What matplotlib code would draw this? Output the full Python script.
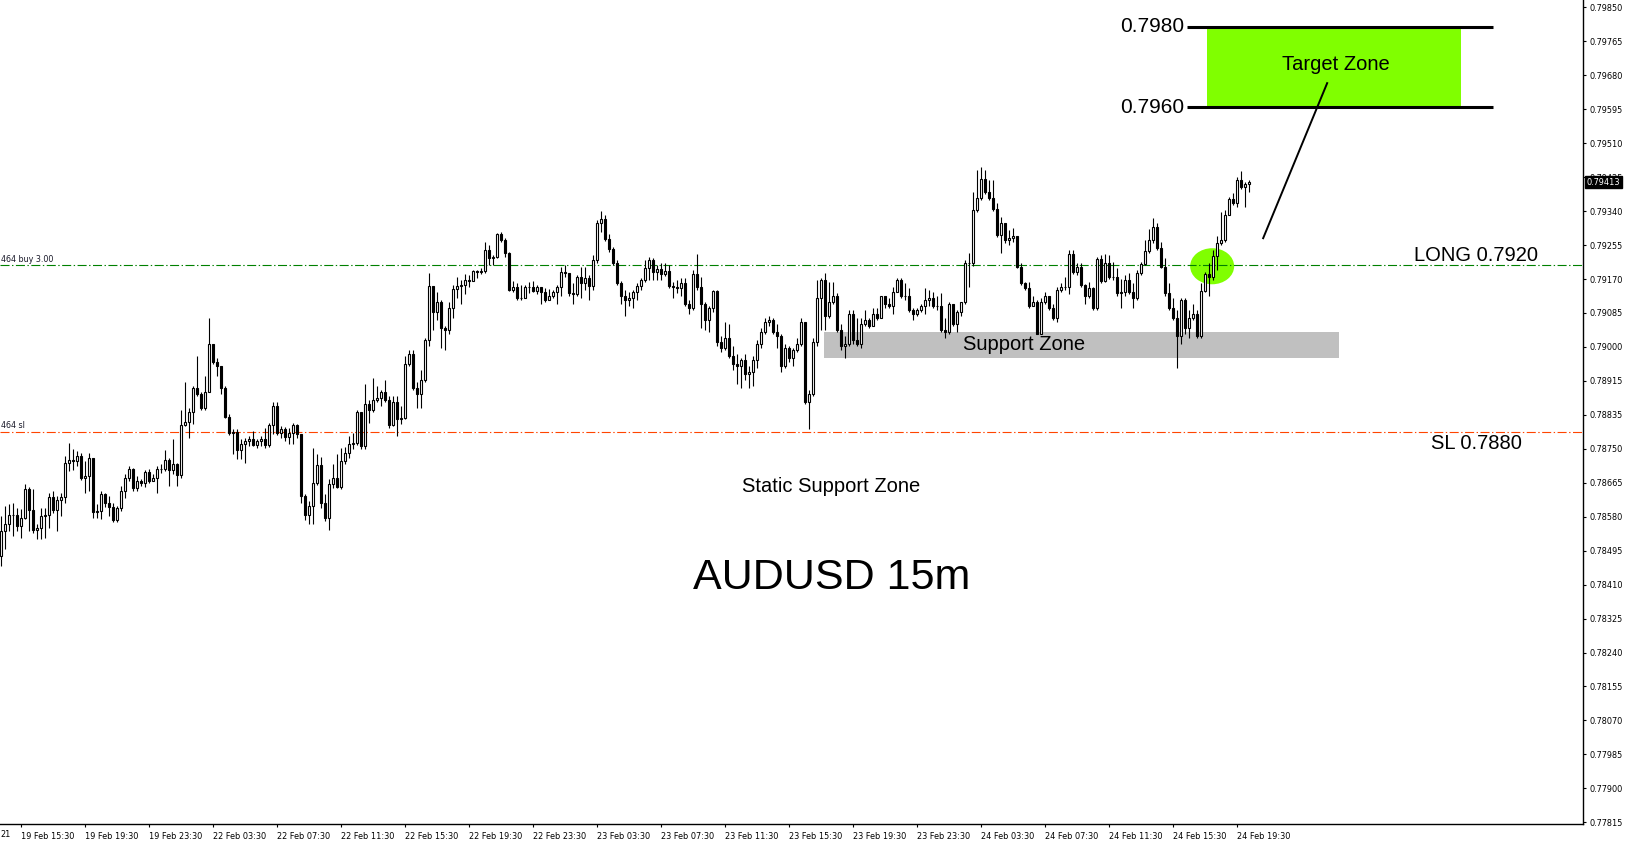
import numpy as np
import matplotlib
matplotlib.use('Agg')
import matplotlib.pyplot as plt
from matplotlib.patches import Rectangle, Ellipse
import matplotlib.transforms as mtransforms

plt.rcParams['lines.scale_dashes'] = False

# ---------------- DATA (prices in points, i.e. price * 1e5) ----------------
first_open = 78481
close_pts = [
    78543, 78560, 78583, 78583, 78555, 78575, 78648, 78595, 78545, 78550,
    78580, 78583, 78628, 78595, 78620, 78628, 78713, 78720, 78718, 78730,
    78675, 78680, 78725, 78590, 78593, 78635, 78613, 78603, 78570, 78600,
    78643, 78675, 78698, 78650, 78668, 78663, 78690, 78668, 78675, 78698,
    78698, 78720, 78695, 78710, 78683, 78808, 78815, 78838, 78898, 78885,
    78848, 78890, 79008, 78963, 78953, 78900, 78828, 78788, 78790, 78745,
    78760, 78768, 78773, 78758, 78768, 78773, 78758, 78808, 78853, 78788,
    78798, 78778, 78788, 78808, 78785, 78630, 78583, 78605, 78663, 78708,
    78613, 78575, 78660, 78675, 78653, 78718, 78738, 78760, 78763, 78838,
    78755, 78860, 78843, 78870, 78875, 78890, 78870, 78808, 78865, 78823,
    78825, 78960, 78985, 78898, 78885, 78918, 79018, 79153, 79090, 79113,
    79048, 79043, 79100, 79145, 79153, 79155, 79168, 79165, 79190, 79188,
    79190, 79243, 79223, 79225, 79283, 79268, 79235, 79143, 79150, 79123,
    79125, 79150, 79150, 79140, 79150, 79138, 79120, 79130, 79138, 79150,
    79188, 79185, 79135, 79133, 79175, 79160, 79173, 79153, 79218, 79310,
    79320, 79270, 79245, 79210, 79160, 79130, 79120, 79125, 79138, 79153,
    79168, 79198, 79218, 79188, 79195, 79183, 79190, 79153, 79150, 79148,
    79160, 79110, 79098, 79183, 79150, 79108, 79068, 79098, 79140, 79015,
    78998, 79025, 78980, 78958, 78955, 78970, 78933, 78938, 78970, 79010,
    79038, 79063, 79068, 79038, 79028, 78953, 79000, 78973, 78993, 79010,
    79063, 78863, 78885, 79013, 79123, 79168, 79080, 79115, 79128, 79043,
    79003, 79010, 79083, 79018, 79010, 79060, 79068, 79055, 79085, 79075,
    79128, 79110, 79103, 79138, 79168, 79130, 79128, 79093, 79085, 79095,
    79105, 79118, 79125, 79103, 79103, 79043, 79038, 79108, 79060, 79088,
    79113, 79210, 79210, 79343, 79373, 79420, 79388, 79373, 79345, 79280,
    79310, 79268, 79273, 79278, 79200, 79160, 79148, 79105, 79115, 79035,
    79115, 79128, 79098, 79073, 79143, 79150, 79150, 79233, 79188, 79200,
    79155, 79128, 79148, 79098, 79220, 79165, 79210, 79175, 79175, 79135,
    79138, 79168, 79138, 79123, 79185, 79208, 79240, 79268, 79300, 79248,
    79200, 79135, 79100, 79075, 79030, 79120, 79050, 79075, 79085, 79030,
    79140, 79183, 79175, 79228, 79260, 79268, 79330, 79370, 79360, 79418,
    79400, 79408, 79413]
high_pts = [
    78580, 78605, 78610, 78613, 78600, 78598, 78660, 78653, 78648, 78560,
    78600, 78600, 78638, 78643, 78630, 78638, 78730, 78763, 78748, 78743,
    78738, 78718, 78738, 78725, 78610, 78643, 78638, 78630, 78613, 78605,
    78655, 78685, 78705, 78700, 78680, 78673, 78695, 78698, 78685, 78705,
    78710, 78745, 78725, 78773, 78713, 78845, 78913, 78848, 78905, 78978,
    78890, 78930, 79075, 79008, 78973, 78955, 78903, 78835, 78798, 78798,
    78773, 78775, 78780, 78793, 78773, 78780, 78800, 78813, 78863, 78863,
    78805, 78803, 78800, 78813, 78810, 78785, 78635, 78618, 78750, 78735,
    78728, 78635, 78673, 78710, 78735, 78750, 78753, 78780, 78788, 78843,
    78840, 78910, 78868, 78925, 78905, 78895, 78920, 78880, 78880, 78880,
    78853, 78980, 78993, 78993, 78913, 78945, 79023, 79185, 79153, 79138,
    79118, 79053, 79113, 79155, 79175, 79168, 79183, 79180, 79193, 79193,
    79198, 79263, 79255, 79230, 79285, 79288, 79273, 79238, 79165, 79160,
    79155, 79155, 79163, 79165, 79155, 79145, 79148, 79145, 79143, 79155,
    79200, 79205, 79185, 79160, 79180, 79200, 79200, 79180, 79230, 79318,
    79340, 79330, 79283, 79250, 79218, 79165, 79143, 79138, 79143, 79160,
    79173, 79218, 79225, 79223, 79205, 79210, 79210, 79205, 79163, 79168,
    79173, 79173, 79118, 79193, 79233, 79175, 79113, 79105, 79143, 79143,
    79030, 79065, 79060, 79005, 78985, 78975, 78985, 78955, 78980, 79018,
    79050, 79075, 79080, 79075, 79060, 79035, 79010, 79005, 79000, 79023,
    79075, 79063, 78893, 79025, 79168, 79173, 79185, 79163, 79163, 79135,
    79060, 79028, 79093, 79093, 79073, 79073, 79093, 79073, 79098, 79100,
    79130, 79125, 79123, 79150, 79173, 79173, 79160, 79148, 79100, 79100,
    79110, 79148, 79143, 79138, 79130, 79135, 79073, 79113, 79110, 79093,
    79113, 79218, 79235, 79388, 79443, 79450, 79443, 79418, 79418, 79360,
    79325, 79310, 79293, 79298, 79278, 79210, 79163, 79163, 79130, 79118,
    79125, 79138, 79125, 79110, 79150, 79160, 79175, 79243, 79243, 79210,
    79210, 79158, 79163, 79150, 79225, 79230, 79233, 79230, 79213, 79198,
    79170, 79180, 79185, 79160, 79193, 79213, 79268, 79295, 79323, 79310,
    79263, 79223, 79160, 79125, 79093, 79125, 79125, 79093, 79110, 79093,
    79160, 79188, 79210, 79243, 79278, 79338, 79343, 79375, 79385, 79426,
    79440, 79413, 79418]
low_pts = [
    78456, 78498, 78543, 78530, 78543, 78525, 78573, 78543, 78538, 78523,
    78523, 78525, 78550, 78588, 78543, 78580, 78613, 78693, 78695, 78705,
    78670, 78638, 78643, 78575, 78575, 78573, 78603, 78580, 78565, 78565,
    78593, 78625, 78668, 78643, 78643, 78655, 78653, 78663, 78668, 78638,
    78688, 78693, 78655, 78685, 78655, 78675, 78805, 78775, 78810, 78880,
    78843, 78845, 78888, 78958, 78930, 78885, 78825, 78783, 78735, 78723,
    78723, 78713, 78755, 78755, 78750, 78755, 78750, 78753, 78785, 78783,
    78775, 78768, 78760, 78760, 78775, 78613, 78570, 78560, 78560, 78658,
    78600, 78568, 78545, 78650, 78650, 78648, 78710, 78725, 78748, 78758,
    78748, 78748, 78813, 78840, 78863, 78855, 78863, 78800, 78805, 78780,
    78810, 78823, 78955, 78893, 78848, 78850, 78913, 79005, 79043, 79068,
    78998, 78993, 79035, 79073, 79125, 79110, 79133, 79150, 79165, 79173,
    79183, 79185, 79205, 79205, 79223, 79263, 79225, 79140, 79138, 79118,
    79118, 79125, 79135, 79138, 79133, 79110, 79113, 79120, 79123, 79108,
    79130, 79175, 79128, 79110, 79128, 79123, 79143, 79118, 79143, 79210,
    79288, 79265, 79238, 79205, 79155, 79110, 79080, 79105, 79100, 79118,
    79143, 79163, 79168, 79168, 79168, 79168, 79178, 79148, 79125, 79135,
    79128, 79105, 79085, 79093, 79143, 79050, 79043, 79038, 79088, 79005,
    78988, 78993, 78973, 78943, 78910, 78900, 78918, 78898, 78905, 78950,
    79000, 79035, 79055, 79035, 79000, 78938, 78948, 78963, 78955, 78988,
    79003, 78860, 78798, 78880, 79005, 79043, 79043, 79073, 79110, 79038,
    78993, 78973, 79003, 79010, 79005, 78998, 79053, 79050, 79053, 79068,
    79073, 79100, 79100, 79085, 79143, 79125, 79118, 79088, 79068, 79080,
    79088, 79085, 79105, 79098, 79093, 79038, 79023, 79035, 79055, 79038,
    79078, 79110, 79150, 79203, 79338, 79368, 79383, 79368, 79340, 79275,
    79235, 79260, 79255, 79263, 79198, 79155, 79143, 79100, 79103, 79033,
    79035, 79110, 79093, 79068, 79063, 79138, 79143, 79133, 79183, 79180,
    79150, 79110, 79125, 79093, 79093, 79160, 79163, 79170, 79168, 79130,
    79100, 79130, 79133, 79098, 79118, 79180, 79205, 79235, 79260, 79243,
    79198, 79130, 79093, 79068, 78948, 79010, 79035, 79025, 79068, 79023,
    79025, 79138, 79130, 79168, 79193, 79255, 79263, 79330, 79355, 79350,
    79395, 79350, 79388]

time_labels = ['19 Feb 15:30', '19 Feb 19:30', '19 Feb 23:30', '22 Feb 03:30',
               '22 Feb 07:30', '22 Feb 11:30', '22 Feb 15:30', '22 Feb 19:30',
               '22 Feb 23:30', '23 Feb 03:30', '23 Feb 07:30', '23 Feb 11:30',
               '23 Feb 15:30', '23 Feb 19:30', '23 Feb 23:30', '24 Feb 03:30',
               '24 Feb 07:30', '24 Feb 11:30', '24 Feb 15:30', '24 Feb 19:30']
time_label_bar = [5, 21, 37, 53, 69, 85, 101, 117, 133, 149,
                  165, 181, 197, 213, 229, 245, 261, 277, 293, 309]
price_labels = ['0.79850', '0.79765', '0.79680', '0.79595', '0.79510', '0.79425',
                '0.79340', '0.79255', '0.79170', '0.79085', '0.79000', '0.78915',
                '0.78835', '0.78750', '0.78665', '0.78580', '0.78495', '0.78410',
                '0.78325', '0.78240', '0.78155', '0.78070', '0.77985', '0.77900',
                '0.77815']
buy_price = 0.79205
sl_price = 0.78790
target_low, target_high = 0.7960, 0.7980
support_low, support_high = 0.78973, 0.79038
last_price = 0.79413

# ---------------- FIGURE ----------------
W, H = 1628, 845
fig = plt.figure(figsize=(W / 100 + 0.002, H / 100 + 0.002), dpi=100, facecolor='white')
ax = fig.add_axes([0, 21 / H, 1583 / W, 824 / H])
ax.set_facecolor('white')
ax.set_xlim(-0.25, 395.5)
ax.set_ylim(0.77811, 0.79868)

c = np.array(close_pts) / 1e5
o = np.concatenate([[first_open / 1e5], c[:-1]])
hi = np.maximum(np.array(high_pts) / 1e5, np.maximum(o, c))
lo = np.minimum(np.array(low_pts) / 1e5, np.minimum(o, c))
idx = np.arange(len(c))

# zones & annotations behind candles
ax.add_patch(Rectangle((205.75, support_low), 334.5 - 205.75, support_high - support_low,
                       facecolor='#c0c0c0', edgecolor='none', zorder=1))
ax.add_patch(Rectangle((301.5, target_low), 365 - 301.5, target_high - target_low,
                       facecolor='#80ff00', edgecolor='none', zorder=1))
ax.add_patch(Ellipse((302.75, 0.79203), 11, 0.00090, facecolor='#80ff00',
                     edgecolor='none', zorder=1.5))
ax.hlines([target_low, target_high], 296.5, 373, colors='black', lw=2.2, zorder=2)

dash = (0, (6.5, 1.8, 1.0, 1.8))
ax.axhline(buy_price, color='#008000', lw=0.8, ls=dash, zorder=2)
ax.axhline(sl_price, color='#ff4500', lw=0.8, ls=dash, zorder=2)

# candles
ax.vlines(idx, lo, hi, color='black', lw=0.8, zorder=3)
up = c >= o
ax.bar(idx[up], (c - o)[up], bottom=o[up], width=0.5, facecolor='white',
       edgecolor='black', lw=0.8, zorder=4)
ax.bar(idx[~up], (o - c)[~up], bottom=c[~up], width=0.5, facecolor='black',
       edgecolor='black', lw=0.8, zorder=4)

# trend line to target
ax.plot([315.5, 331.5], [0.79273, 0.79660], color='black', lw=1.4, zorder=5)

tf = 'Liberation Sans'
ax.text(295.75, 0.79803, '0.7980', fontsize=15, family=tf, ha='right', va='center', zorder=6)
ax.text(295.75, 0.79600, '0.7960', fontsize=15, family=tf, ha='right', va='center', zorder=6)
ax.text(333.75, 0.79708, 'Target Zone', fontsize=14.5, family=tf, ha='center', va='center', zorder=6)
ax.text(368.75, 0.79230, 'LONG 0.7920', fontsize=14.5, family=tf, ha='center', va='center', zorder=6)
ax.text(368.75, 0.78760, 'SL 0.7880', fontsize=14.5, family=tf, ha='center', va='center', zorder=6)
ax.text(255.75, 0.79008, 'Support Zone', fontsize=14.5, family=tf, ha='center', va='center', zorder=6)
ax.text(207.5, 0.78655, 'Static Support Zone', fontsize=14.5, family=tf, ha='center', va='center', zorder=6)
ax.text(207.75, 0.78426, 'AUDUSD 15m', fontsize=31, family=tf, ha='center', va='center', zorder=6)

ax.text(0, buy_price + 0.00004, '464 buy 3.00', fontsize=5.8, color='#1a1a2a',
        ha='left', va='bottom', zorder=6)
ax.text(0, sl_price + 0.00004, '464 sl', fontsize=5.8, color='#1a1a2a',
        ha='left', va='bottom', zorder=6)

# axes styling
for s in ['top', 'left']:
    ax.spines[s].set_visible(False)
for s in ['right', 'bottom']:
    ax.spines[s].set_color('black')
    ax.spines[s].set_linewidth(1.0)

ax.yaxis.tick_right()
ax.set_yticks(np.linspace(0.79850, 0.77815, len(price_labels)))
ax.set_yticklabels(price_labels)
ax.tick_params(axis='y', direction='out', length=2.5, width=0.8, pad=2,
               labelsize=5.9, colors='black')

ax.set_xticks(time_label_bar)
ax.set_xticklabels(time_labels)
ax.tick_params(axis='x', direction='out', length=2.5, width=0.8, pad=3,
               labelsize=5.9, colors='black')
for lbl in ax.get_xticklabels():
    lbl.set_ha('left')

fig.text(0, 1 - 834 / H, '21', fontsize=5.9, ha='left', va='center')

# current price marker (covers the 0.79425 axis label as in the original)
ax.annotate(f'{last_price:.5f}', xy=(1.0, last_price),
            xycoords=('axes fraction', 'data'), xytext=(2.5, 0),
            textcoords='offset points', fontsize=5.9, color='white',
            ha='left', va='center', zorder=10, annotation_clip=False,
            bbox=dict(boxstyle='square,pad=0.2', fc='black', ec='black'))

fig.savefig('out.png', dpi=100, facecolor='white')
